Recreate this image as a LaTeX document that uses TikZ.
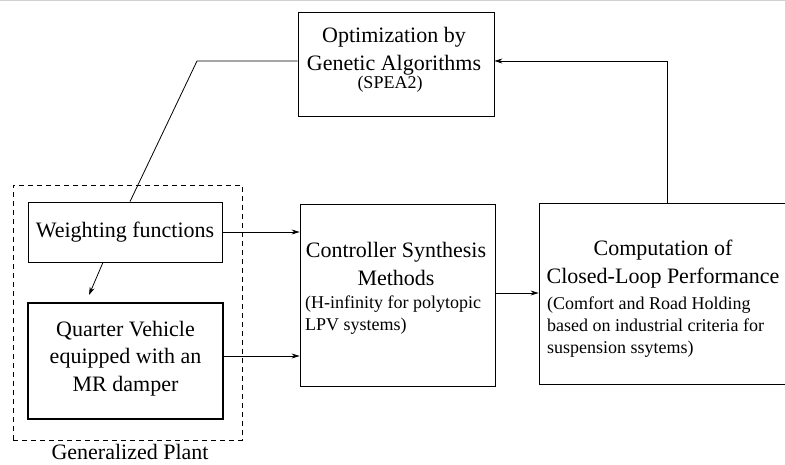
\documentclass[tikz,border=0pt]{standalone}
\usepackage{fontspec}
\setmainfont{Liberation Serif}
\usetikzlibrary{arrows.meta}
\begin{document}
\begin{tikzpicture}[x=1pt,y=-1pt,
  box/.style={draw,line width=0.8pt,minimum width=#1,inner sep=0pt},
  big/.style={font=\fontsize{22}{28}\selectfont,inner sep=0pt,align=center},
  small/.style={font=\fontsize{18}{22}\selectfont,inner sep=0pt,align=left,anchor=west},
  arr/.style={line width=0.8pt,-{Stealth[length=8pt,width=5pt]}},
  conn/.style={line width=0.8pt}]
\useasboundingbox (0,0) rectangle (785,465);
\clip (0,0) rectangle (785,465);
\fill[white] (0,0) rectangle (785,465);
\draw[gray!35,line width=1pt] (0,0.5) -- (785,0.5);
% boxes
\node[box=196pt,minimum height=104pt] (opt) at (396,64) {};
\node[box=194pt,minimum height=60pt] (weight) at (125,232) {};
\node[box=195pt,minimum height=116pt,line width=1.3pt] (quarter) at (125.5,361) {};
\node[box=195pt,minimum height=182pt] (ctrl) at (397.5,295) {};
\node[box=251pt,minimum height=181pt] (perf) at (664.5,293.5) {};
\node[draw,dash pattern=on 5pt off 4pt,line width=0.8pt,minimum width=229pt,minimum height=255pt,inner sep=0pt] (plant) at (127.5,312.5) {};
% texts
\node[big] (optt) at (394,51) {Optimization by\\Genetic Algorithms};
\node[small,anchor=center] (spea) at (390,84) {(SPEA2)};
\node[big] (weightt) at (125,232) {Weighting functions};
\node[big,font=\fontsize{22}{27.5}\selectfont] (quartert) at (125.5,358.5) {Quarter Vehicle\\equipped with an\\MR damper};
\node[big] (plantt) at (130,452) {Generalized Plant};
\node[big] (ctrlt) at (396,264) {Controller Synthesis\\Methods};
\node[small] (ctrls) at (305,315) {(H-infinity for polytopic\\LPV systems)};
\node[big] (perft) at (663,264) {Computation of\\Closed-Loop Performance};
\node[small] (perfs) at (547,327) {(Comfort and Road Holding\\based on industrial criteria for\\suspension ssytems)};
% connectors
\coordinate (c1) at (667,61);
\coordinate (c2) at (197,61);
\coordinate (c3) at (89,295);
\draw[arr] (weight.east) -- (weight.east -| ctrl.west);
\draw[arr] ([yshift=5pt]quarter.east) -- ([yshift=5pt]quarter.east -| ctrl.west);
\draw[arr] ([yshift=2pt]ctrl.east) -- ([yshift=2pt]ctrl.east -| perf.west);
\draw[arr] (perf.north -| c1) -- (c1) -- (c1 -| opt.east);
\draw[conn] (c2 -| opt.west) -- (c2) -- ([xshift=5pt]weight.north);
\draw[arr] ([xshift=-22pt]weight.south) -- (c3);
\end{tikzpicture}
\end{document}
